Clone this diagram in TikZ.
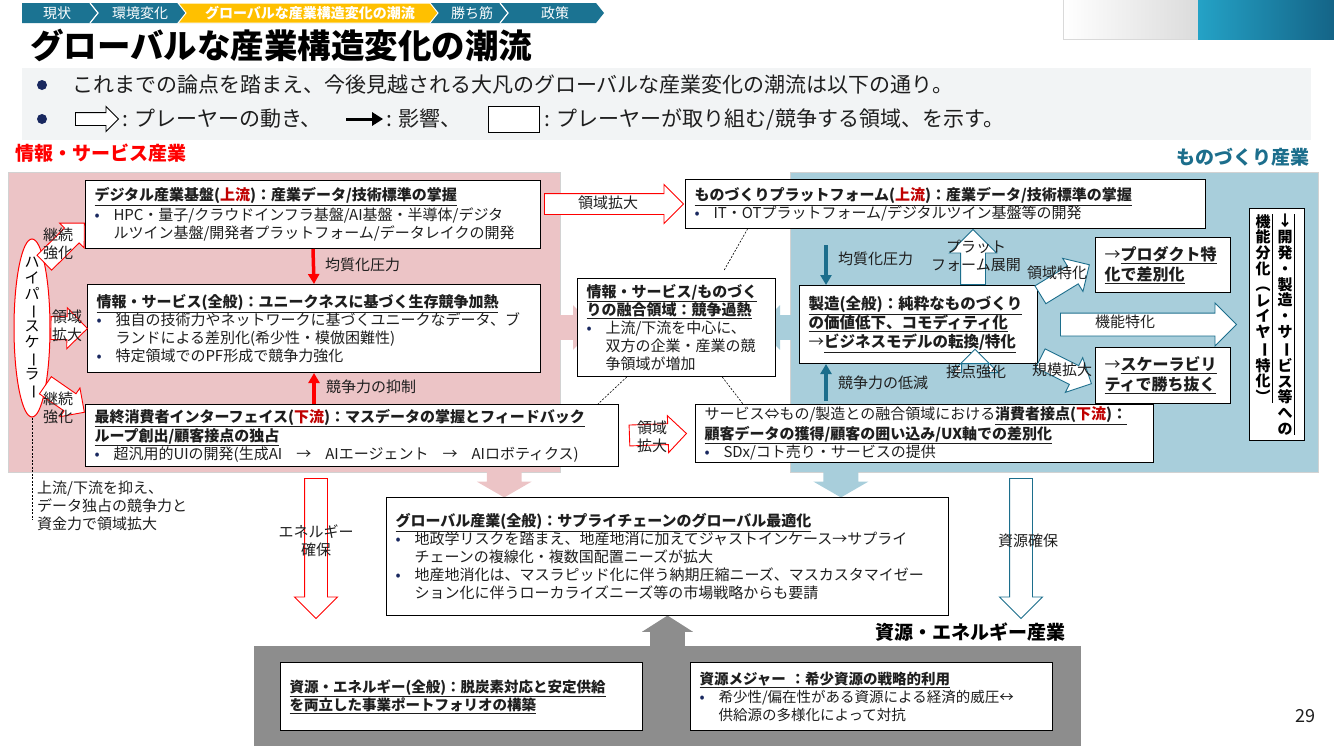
\documentclass[tikz,border=0pt]{standalone}
\usepackage{fontspec}
\setmainfont{Noto Sans CJK JP}
\usepackage{graphicx}
\usetikzlibrary{positioning,calc,arrows.meta,shapes.arrows,shapes.geometric,backgrounds}

\definecolor{crumbteal}{RGB}{27,115,146}
\definecolor{crumbyel}{RGB}{255,192,0}
\definecolor{infogray}{RGB}{242,244,245}
\definecolor{bulnavy}{RGB}{25,40,95}
\definecolor{pinkbg}{RGB}{236,196,198}
\definecolor{bluebg}{RGB}{168,206,219}
\definecolor{mteal}{RGB}{28,110,140}
\definecolor{upred}{RGB}{192,0,0}
\definecolor{resgray}{RGB}{141,141,141}
\definecolor{txtgray}{RGB}{30,30,30}
\definecolor{logoA}{RGB}{36,162,198}
\definecolor{logoB}{RGB}{20,100,135}

\newcommand{\bul}{\makebox[19pt][l]{\textcolor{bulnavy}{\fontsize{15}{15}\selectfont•}}}
\newcommand{\bulind}{\makebox[19pt]{}}
\newcommand{\vlong}{\rotatebox[origin=c]{-90}{ー}}
\newcommand{\bhd}[1]{\underline{\textbf{#1}}}
% block arrow from one point to another
\newcommand{\blk}[3][]{%
  \path let \p1=#2, \p2=#3,
    \n1={atan2(\y2-\y1,\x2-\x1)}, \n2={veclen(\x2-\x1,\y2-\y1)} in
    node[blk, #1, anchor=tail, rotate=\n1, minimum height=\n2] at (\p1) {};}

\begin{document}
\begin{tikzpicture}[x=1pt, y=-1pt, font=\fontsize{15}{18}\selectfont,
  >={Triangle[length=10pt,width=11pt]},
  box/.style={draw, fill=white, line width=1pt, align=left, anchor=north west,
    inner xsep=9pt, inner ysep=2pt, text=txtgray},
  panel/.style={draw=gray!35, line width=1pt, anchor=north west, inner sep=0pt},
  lbl/.style={text=txtgray, align=center, inner sep=0pt},
  blk/.style={single arrow, fill=white, line width=0.9pt, inner xsep=0pt,
    single arrow tip angle=90},
  rblk/.style={blk, draw=red},
  tblk/.style={blk, draw=mteal},
  pkblk/.style={blk, fill=pinkbg},
  blblk/.style={blk, fill=bluebg},
  gyblk/.style={blk, fill=resgray},
  redarr/.style={->, draw=red, line width=3.5pt},
  tealarr/.style={->, draw=mteal, line width=3.5pt},
  dline/.style={dash pattern=on 2pt off 1.5pt, line width=0.6pt},
  vcol/.style={font=\fontsize{15}{15.8}\selectfont\bfseries, align=center, inner sep=0pt},
  crumb/.style={text=white, font=\fontsize{14}{14}\selectfont, inner sep=0pt},
  sect/.style={font=\fontsize{19}{19}\selectfont\bfseries, inner sep=0pt},
  lgtxt/.style={font=\fontsize{21}{24}\selectfont, inner sep=0pt, text=txtgray}]

\useasboundingbox (0,0) rectangle (1334,750);

% breadcrumb
\fill[crumbteal] (22,3) -- (596,3) -- (604,13) -- (596,23) -- (22,23) -- cycle;
\foreach \xt in {98,508}
  \draw[white, line width=1.2pt] (\xt-8,3) -- (\xt,13) -- (\xt-8,23);
\fill[crumbyel, draw=white, line width=1pt] (178,3) -- (430,3) -- (438,13) -- (430,23) -- (178,23) -- (186,13) -- cycle;
\foreach \cx/\ct [count=\i] in {57/現状, 140/環境変化, 472/勝ち筋, 555/政策}
  \node[crumb] (bc\i) at (\cx,13) {\ct};
\node[crumb, font=\fontsize{14}{14}\selectfont\bfseries] (bcnow) at (310,13) {グローバルな産業構造変化の潮流};

% logo corner
\shade[left color=white, right color=gray!28] (1063,0) rectangle (1198,39);
\shade[left color=logoA, right color=logoB] (1198,0) rectangle (1334,39);
\draw[gray!30, line width=0.6pt] (1063,0) -- (1063,39) -- (1198,39);

% title and notes
\node[anchor=west, inner sep=0pt, font=\fontsize{33.5}{34}\selectfont\bfseries] (title) at (30,45) {グローバルな産業構造変化の潮流};
\fill[infogray] (22,68) rectangle (1311,140);
\fill[bulnavy] (42,85) circle (5pt) (42,119) circle (5pt);
\node[lgtxt, anchor=west] (note1) at (72,85) {これまでの論点を踏まえ、今後見越される大凡のグローバルな産業変化の潮流は以下の通り。};
\node[blk, draw=black, inner ysep=6pt, single arrow head extend=6pt, minimum height=43pt, anchor=tail] (lgmove) at (75,119) {};
\node[lgtxt, right=3pt of lgmove.tip] (lgmovet) {: プレーヤーの動き、};
\coordinate[right=24pt of lgmovet] (lgimpA);
\coordinate[right=37pt of lgimpA] (lgimpB);
\draw[->, line width=3pt, >={Triangle[length=11pt,width=13pt]}] (lgimpA) -- (lgimpB);
\node[lgtxt, right=3pt of lgimpB] (lgimpt) {: 影響、};
\node[draw, fill=white, line width=1pt, minimum width=51pt, minimum height=26pt, right=26pt of lgimpt] (lgarea) {};
\node[lgtxt, right=5pt of lgarea] (lgareat) {: プレーヤーが取り組む/競争する領域、を示す。};

\node[sect, text=red, anchor=west] (secinfo) at (15,153) {情報・サービス産業};
\node[sect, text=mteal, anchor=east] (secmono) at (1310,157) {ものづくり産業};

% boxes
\node[box, text width=437pt, minimum height=68pt] (dig) at (85,180) {%
  \bhd{デジタル産業基盤(\textcolor{upred}{上流})：産業データ/技術標準の掌握}\\[2pt]
  \bul HPC・量子/クラウドインフラ基盤/AI基盤・半導体/デジタ\\
  \bulind ルツイン基盤/開発者プラットフォーム/データレイクの開発};
\node[box, text width=435pt, minimum height=88pt] (info) at (87,284) {%
  \bhd{情報・サービス(全般)：ユニークネスに基づく生存競争加熱}\\
  \bul 独自の技術力やネットワークに基づくユニークなデータ、ブ\\
  \bulind ランドによる差別化(希少性・模倣困難性)\\
  \bul 特定領域でのPF形成で競争力強化};
\node[box, text width=515pt, minimum height=62pt] (iface) at (85,404) {%
  \bhd{最終消費者インターフェイス(\textcolor{upred}{下流})：マスデータの掌握とフィードバック}\\
  \bhd{ループ創出/顧客接点の独占}\\
  \bul 超汎用的UIの開発(生成AI\kern14pt→\kern14pt AIエージェント\kern14pt→\kern14pt AIロボティクス)};
\node[box, text width=180pt, minimum height=98pt] (fus) at (577,278) {%
  \bhd{情報・サービス/ものづく}\\
  \bhd{りの融合領域：競争過熱}\\
  \bul 上流/下流を中心に、\\
  \bulind 双方の企業・産業の競\\
  \bulind 争領域が増加};
\node[box, text width=502pt, minimum height=49pt] (mplat) at (685,179) {%
  \bhd{ものづくりプラットフォーム(\textcolor{upred}{上流})：産業データ/技術標準の掌握}\\
  \bul IT・OTプラットフォーム/デジタルツイン基盤等の開発};
\node[box, text width=220pt, minimum height=78pt, font=\fontsize{15.5}{19}\selectfont] (mfg) at (799,285) {%
  \bhd{製造(全般)：純粋なものづくり}\\
  \bhd{の価値低下、コモディティ化}\\
  →\bhd{ビジネスモデルの転換/特化}};
\node[box, text width=117pt, minimum height=55pt, font=\fontsize{16}{20}\selectfont] (prod) at (1095,237) {%
  →\bhd{プロダクト特}\\
  \bhd{化で差別化}};
\node[box, text width=117pt, minimum height=56pt, font=\fontsize{16}{20}\selectfont] (scale) at (1095,347) {%
  →\bhd{スケーラビリ}\\
  \bhd{ティで勝ち抜く}};
\node[box, text width=440pt, minimum height=58pt] (touch) at (695,404) {%
  サービス⇔もの/製造との融合領域における\bhd{消費者接点(\textcolor{upred}{下流})：}\\
  \bhd{顧客データの獲得/顧客の囲い込み/UX軸での差別化}\\
  \bul SDx/コト売り・サービスの提供};
\node[box, minimum width=55pt, minimum height=232pt, inner sep=0pt] (layer) at (1249,208) {};
\node[vcol, anchor=north] (colL) at (1263,214) {機\\能\\分\\化\\︵\\レ\\イ\\ヤ\\\vlong\\特\\化\\︶};
\node[vcol, anchor=north] (colR) at (1285,214) {↓\\開\\発\\・\\製\\造\\・\\サ\\\vlong\\ビ\\ス\\等\\へ\\の};
\draw[line width=0.8pt] ($(colL.north east)+(2,0)$) -- ($(colL.south east)+(2,0)$);
\draw[line width=0.8pt] ($(colR.north east)+(2,0)$) -- ($(colR.south east)+(2,0)$);
\node[box, text width=544pt, minimum height=118pt] (glob) at (386,497) {%
  \bhd{グローバル産業(全般)：サプライチェーンのグローバル最適化}\\
  \bul 地政学リスクを踏まえ、地産地消に加えてジャストインケース→サプライ\\
  \bulind チェーンの複線化・複数国配置ニーズが拡大\\
  \bul 地産地消化は、マスラピッド化に伴う納期圧縮ニーズ、マスカスタマイゼー\\
  \bulind ション化に伴うローカライズニーズ等の市場戦略からも要請};
\node[box, text width=344pt, minimum height=68pt, font=\fontsize{14.5}{18}\selectfont] (resgen) at (280,662) {%
  \bhd{資源・エネルギー(全般)：脱炭素対応と安定供給}\\
  \bhd{を両立した事業ポートフォリオの構築}};
\node[box, text width=344pt, minimum height=68pt, font=\fontsize{14.5}{18}\selectfont] (resmaj) at (690,662) {%
  \bhd{資源メジャー\ ：希少資源の戦略的利用}\\
  \bul 希少性/偏在性がある資源による経済的威圧↔\\
  \bulind 供給源の多様化によって対抗};
\node[sect, font=\fontsize{19}{19}\selectfont\bfseries, anchor=east] (secres) at (1066,632) {資源・エネルギー産業};
\node[font=\fontsize{18}{18}\selectfont, text=txtgray] (pgno) at (1305,716) {29};

% hyperscaler
\node[ellipse, draw=red, fill=white, line width=1pt, minimum width=36pt, minimum height=178pt, inner sep=0pt] (hyp) at (32,328) {};
\node[vcol, font=\fontsize{15}{16}\selectfont] (hyptxt) at (hyp.center) {ハ\\イ\\パ\\\vlong\\ス\\ケ\\\vlong\\ラ\\\vlong};
\blk[rblk, inner ysep=10pt, single arrow head extend=7pt]{($(hyp.center)+(12,-65)$)}{($(dig.west)+(-1,9)$)}
\blk[rblk, inner ysep=11pt, single arrow head extend=9pt]{(hyp.east)}{(info.west)}
\blk[rblk, inner ysep=10pt, single arrow head extend=7pt]{($(hyp.center)+(13,57)$)}{($(iface.north west)+(-1,8)$)}
\node[lbl] (lcont1) at (58,244) {継続\\強化};
\node[lbl] (lexp0) at (67,326) {領域\\拡大};
\node[lbl] (lcont2) at (58,408) {継続\\強化};
\coordinate (hypend) at (32,520);
\draw[dline] (hyp.south) -- (hypend);
\node[lbl, align=left, anchor=north west] (hypnote) at (37,481) {上流/下流を抑え、\\データ独占の競争力と\\資金力で領域拡大};

% influence arrows
\draw[redarr] (dig.south) -- (info.north);
\draw[redarr] (info.south |- iface.north) -- (info.south);
\node[lbl, anchor=west] (lhomo1) at (325,265) {均質化圧力};
\node[lbl, anchor=west] (lsup) at (326,387) {競争力の抑制};
\coordinate (tq) at (826,245);
\coordinate (tc) at (826,401);
\draw[tealarr] (tq) -- (tq |- mfg.north);
\draw[tealarr] (tc) -- (tc |- mfg.south);
\node[lbl, anchor=west] (lhomo2) at (838,259) {均質化圧力};
\node[lbl, anchor=west] (llow) at (838,383) {競争力の低減};

% player moves
\blk[rblk, inner ysep=10pt, single arrow head extend=9pt]{($(dig.east |- mplat.west)+(3,0)$)}{($(mplat.west)+(-2,0)$)}
\node[lbl] (lexp1) at (608,203) {領域拡大};
\blk[rblk, inner ysep=10pt, single arrow head extend=8pt]{($(iface.east)+(10,0)$)}{($(touch.west)+(-9,0)$)}
\node[lbl] (lexp2) at (652,437) {領域\\拡大};
\blk[tblk, inner ysep=12pt, single arrow head extend=11pt]{($(mfg.north west)+(174,0)$)}{($(mfg.north west)+(174,-55)$)}
\node[lbl] (lplat) at (976,256) {プラット\\フォーム展開};
\blk[tblk, inner ysep=13pt, single arrow head extend=10pt]{($(mfg.south west)+(176,0)$)}{($(mfg.south west)+(176,0)$ |- touch.north)}
\node[lbl] (ltouch) at (976,372) {接点強化};
\blk[tblk, inner ysep=10pt, single arrow head extend=9pt]{($(mfg.north east)+(2,10)$)}{($(prod.west)+(-6,0)$)}
\node[lbl] (lspec) at (1057,273) {領域特化};
\blk[tblk, inner ysep=11pt, single arrow head extend=10pt]{($(mfg.east)+(22,0)$)}{($(layer.west |- mfg.east)+(-13,0)$)}
\node[lbl] (lfunc) at (1125,322) {機能特化};
\blk[tblk, inner ysep=10pt, single arrow head extend=9pt]{($(mfg.south east)+(2,-6)$)}{($(scale.west)+(-4,8)$)}
\node[lbl] (lscale) at (1062,370) {規模拡大};
\coordinate (enA) at (316,478);
\coordinate (enB) at (316,618);
\blk[rblk, inner ysep=11pt, single arrow head extend=10pt]{(enA)}{(enB)}
\node[lbl] (lenergy) at (316,541) {エネルギー\\確保};
\coordinate (rsA) at (1021,478);
\coordinate (rsB) at (1021,618);
\blk[tblk, inner ysep=11pt, single arrow head extend=10pt]{(rsA)}{(rsB)}
\node[lbl] (lres) at (1028,541) {資源確保};

% fusion links
\draw[dline] ($(fus.north west)!0.74!(fus.north east)+(0,-8)$) -- ($(mplat.south west)!0.12!(mplat.south east)$);
\draw[dline] ($(fus.south west)!0.25!(fus.south east)$) -- ($(iface.north east)+(-21,0)$);
\draw[dline] ($(fus.south west)!0.73!(fus.south east)$) -- ($(touch.north west)+(48,0)$);

% industry panels
\begin{scope}[on background layer]
  \node[panel, fill=pinkbg, minimum width=552pt, minimum height=300pt] (pinkpnl) at (8,172) {};
  \node[panel, fill=bluebg, minimum width=528pt, minimum height=300pt] (bluepnl) at (790,172) {};
  \node[panel, draw=none, fill=resgray, minimum width=827pt, minimum height=100pt] (respnl) at (253,645) {};
  \blk[pkblk, inner ysep=12pt, single arrow head extend=10pt]{($(pinkpnl.east |- fus.west)+(-2,0)$)}{($(fus.west)+(18,0)$)}
  \blk[blblk, inner ysep=12pt, single arrow head extend=10pt]{($(bluepnl.west |- fus.east)+(2,0)$)}{($(fus.east)+(-18,0)$)}
  \coordinate (gpk) at ($(glob.north west)!0.21!(glob.north east)$);
  \coordinate (gbl) at ($(glob.north west)!0.808!(glob.north east)$);
  \blk[pkblk, inner ysep=17pt, single arrow head extend=10pt, single arrow tip angle=120]{($(gpk |- pinkpnl.south)+(0,-2)$)}{(gpk)}
  \blk[blblk, inner ysep=17pt, single arrow head extend=10pt, single arrow tip angle=120]{($(gbl |- bluepnl.south)+(0,-2)$)}{(gbl)}
  \blk[gyblk, inner ysep=17pt, single arrow head extend=8pt, single arrow tip angle=115]{($(glob.south |- respnl.north)+(0,2)$)}{(glob.south)}
\end{scope}
\end{tikzpicture}
\end{document}
